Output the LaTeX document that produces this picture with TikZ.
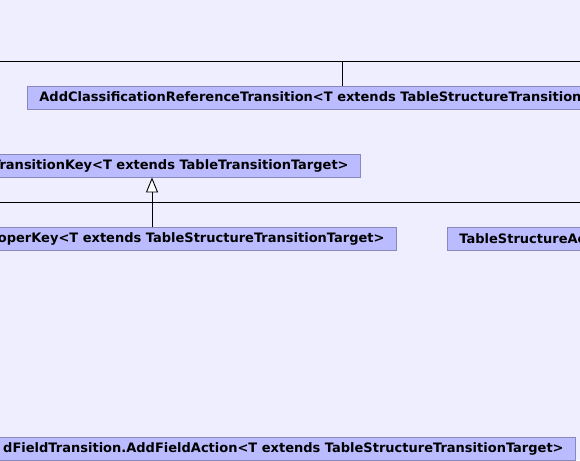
\documentclass[tikz,border=0pt]{standalone}
\usepackage{fontspec}
\setmainfont{DejaVu Sans}
\usetikzlibrary{arrows.meta}
\usetikzlibrary{positioning}
\definecolor{diagbg}{RGB}{238,238,255}
\definecolor{classfill}{RGB}{187,187,255}
\definecolor{classline}{RGB}{136,136,187}
\tikzset{
    classbox/.style={draw=classline, fill=classfill, line width=0.8pt, minimum height=23pt, inner xsep=12pt, inner ysep=0pt, font=\fontsize{13}{15}\selectfont\bfseries},
    bus/.style={line width=0.9pt},
    inherits/.style={line width=0.9pt, -{Triangle[length=15pt, width=12pt, fill=white, line width=0.9pt]}},
}

\begin{document}
\begin{tikzpicture}[x=1pt, y=-1pt]

            % Canvas
            \fill[diagbg] (0,0) rectangle (580,460);
            \useasboundingbox (0,0) rectangle (580,460);
            \clip (0,0) rectangle (580,460);

            % Classes
            \node[classbox, anchor=west] (addref) at (27,97.5) {AddClassificationReferenceTransition<T extends TableStructureTransitionTarget>};
            \node[classbox, anchor=east] (transkey) at (361,165.5) {TransitionKey<T extends TableTransitionTarget>};
            \node[classbox, anchor=east] (operkey) at (397,239) {operKey<T extends TableStructureTransitionTarget>};
            \node[classbox, anchor=west] (tsaction) at (447,239) {TableStructureAction};
            \node[classbox, anchor=east] (addfield) at (576,448.5) {dFieldTransition.AddFieldAction<T extends TableStructureTransitionTarget>};

            % Bus lines
            \coordinate (topL) at (0,61);
            \coordinate (topR) at (580,61);
            \coordinate (topJ) at (342,61);
            \coordinate (midL) at (0,202);
            \coordinate (midR) at (580,202);
            \coordinate (midJ) at (152,202);

            % Relationships
            \draw[bus] (topL) -- (topR);
            \draw[bus] (addref.north -| topJ) -- (topJ);
            \draw[bus] (midL) -- (midR);
            \draw[bus] (operkey.north -| midJ) -- (midJ);
            \draw[inherits] (midJ) -- (transkey.south -| midJ);

\end{tikzpicture}
\end{document}
